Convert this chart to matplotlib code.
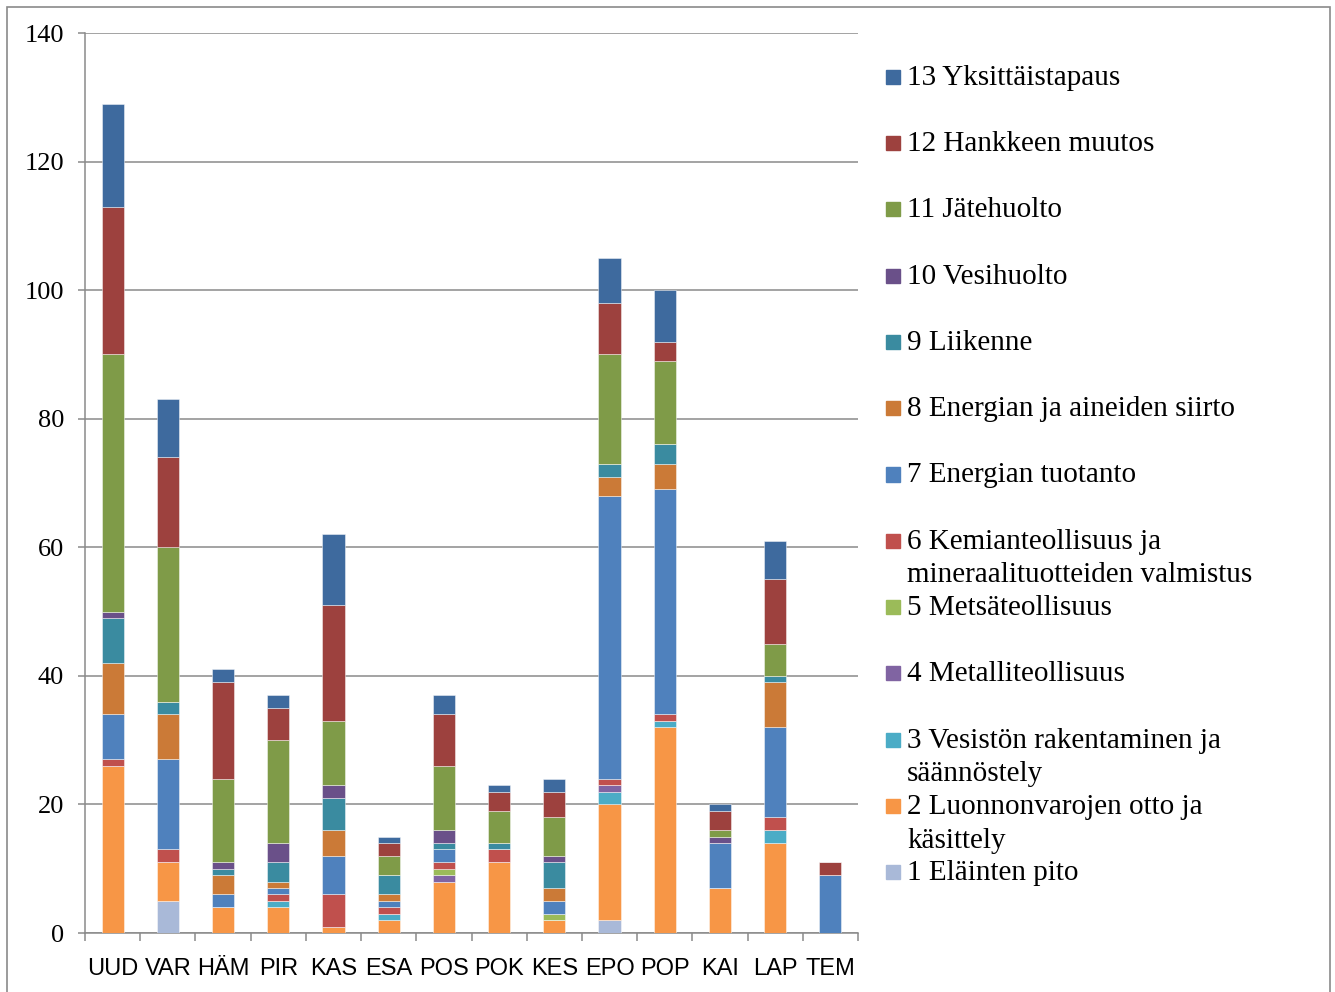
import matplotlib
matplotlib.use('Agg')
import matplotlib.pyplot as plt
import matplotlib.patches as mpatches
import numpy as np

regions = ['UUD', 'VAR', 'HÄM', 'PIR', 'KAS', 'ESA', 'POS', 'POK', 'KES', 'EPO', 'POP', 'KAI', 'LAP', 'TEM']

# one list per category, bottom to top of each stack
elainten_pito = [0, 5, 0, 0, 0, 0, 0, 0, 0, 2, 0, 0, 0, 0]
luonnonvarat = [26, 6, 4, 4, 1, 2, 8, 11, 2, 18, 32, 7, 14, 0]
vesisto = [0, 0, 0, 1, 0, 1, 0, 0, 0, 2, 1, 0, 2, 0]
metalli = [0, 0, 0, 0, 0, 0, 1, 0, 0, 1, 0, 0, 0, 0]
metsa = [0, 0, 0, 0, 0, 0, 1, 0, 1, 0, 0, 0, 0, 0]
kemia = [1, 2, 0, 1, 5, 1, 1, 2, 0, 1, 1, 0, 2, 0]
energia_tuotanto = [7, 14, 2, 1, 6, 1, 2, 0, 2, 44, 35, 7, 14, 9]
energia_siirto = [8, 7, 3, 1, 4, 1, 0, 0, 2, 3, 4, 0, 7, 0]
liikenne = [7, 2, 1, 3, 5, 3, 1, 1, 4, 2, 3, 0, 1, 0]
vesihuolto = [1, 0, 1, 3, 2, 0, 2, 0, 1, 0, 0, 1, 0, 0]
jatehuolto = [40, 24, 13, 16, 10, 3, 10, 5, 6, 17, 13, 1, 5, 0]
hankemuutos = [23, 14, 15, 5, 18, 2, 8, 3, 4, 8, 3, 3, 10, 2]
yksittainen = [16, 9, 2, 2, 11, 1, 3, 1, 2, 7, 8, 1, 6, 0]

series = [elainten_pito, luonnonvarat, vesisto, metalli, metsa, kemia, energia_tuotanto,
          energia_siirto, liikenne, vesihuolto, jatehuolto, hankemuutos, yksittainen]
labels = ['1 Eläinten pito', '2 Luonnonvarojen otto ja\nkäsittely',
          '3 Vesistön rakentaminen ja\nsäännöstely', '4 Metalliteollisuus', '5 Metsäteollisuus',
          '6 Kemianteollisuus ja\nmineraalituotteiden valmistus', '7 Energian tuotanto',
          '8 Energian ja aineiden siirto', '9 Liikenne', '10 Vesihuolto', '11 Jätehuolto',
          '12 Hankkeen muutos', '13 Yksittäistapaus']
colors = ['#A9B9D8', '#F79646', '#4BACC6', '#8064A2', '#9BBB59', '#C0504D', '#4F81BD',
          '#CB7A37', '#3A8BA0', '#6A5089', '#7F9B48', '#9D413E', '#3E6A9E']

W, H = 1335, 992
fig = plt.figure(figsize=(W / 100, H / 100), dpi=100)
ax = fig.add_axes([85 / W, (H - 933) / H, (858 - 85) / W, 900 / H])

grid_col = '#8A8A8A'
x = np.arange(len(regions))
bottom = np.zeros(len(regions))
for vals, col in zip(series, colors):
    ax.bar(x, vals, 0.4, bottom=bottom, color=col, edgecolor=(1, 1, 1, 0.45), linewidth=0.7, zorder=3)
    bottom += np.array(vals)

ax.set_xlim(-0.5, len(regions) - 0.5)
ax.set_ylim(0, 140)
ax.set_yticks(range(0, 141, 20))
ax.yaxis.grid(True, color=grid_col, linewidth=1.1, zorder=0)
for s in ['top', 'right']:
    ax.spines[s].set_visible(False)
for s in ['left', 'bottom']:
    ax.spines[s].set_color(grid_col)
    ax.spines[s].set_linewidth(1.1)

ax.set_xticks(x)
ax.set_xticklabels(regions, family='Liberation Sans', fontsize=17)
ax.set_xticks(np.arange(-0.5, len(regions), 1), minor=True)
ax.tick_params(axis='x', which='major', length=0, pad=18)
ax.tick_params(axis='x', which='minor', length=6, width=1.1, color=grid_col, direction='out')
ax.tick_params(axis='y', length=5, width=1.1, color=grid_col, pad=10)
for t in ax.get_yticklabels():
    t.set_family('Liberation Serif')
    t.set_fontsize(19)

# legend drawn by hand, top entry first
for i, (lab, col) in enumerate(zip(labels[::-1], colors[::-1])):
    yc = 76.7 + i * 66.3
    fig.patches.append(mpatches.Rectangle((886 / W, 1 - (yc + 7) / H), 14 / W, 14 / H,
                                          transform=fig.transFigure, color=col))
    for j, line in enumerate(lab.split('\n')):
        fig.text(907 / W, 1 - (yc + 8 + j * 33.5) / H, line, family='Liberation Serif',
                 fontsize=21, va='baseline', ha='left')

fig.patches.append(mpatches.Rectangle((6.5 / W, -0.05), (1330 - 6.5) / W, 1.05 - 6.5 / H,
                                      transform=fig.transFigure, fill=False,
                                      edgecolor=grid_col, linewidth=1.2))

fig.savefig('out.png', dpi=100)
